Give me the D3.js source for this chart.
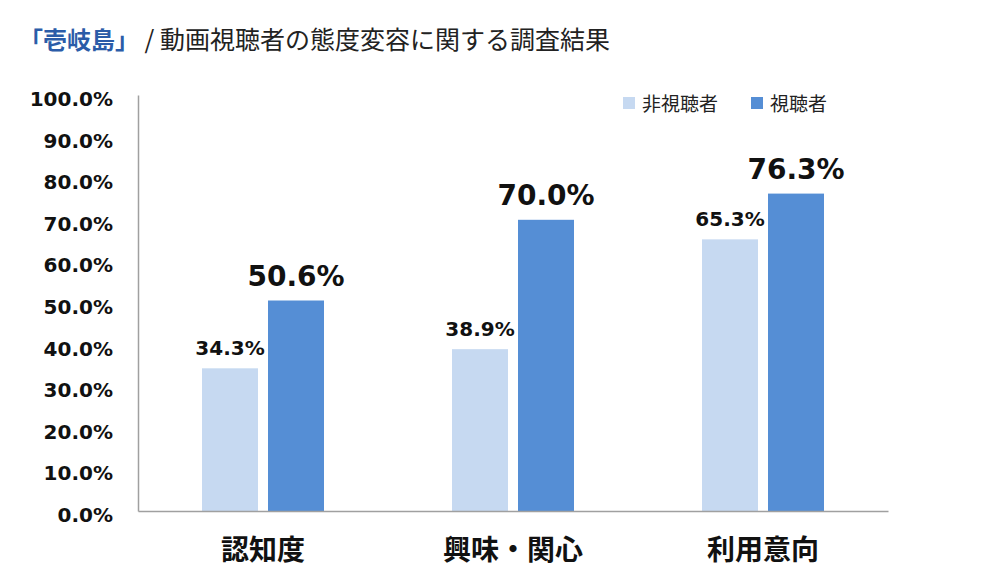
<!DOCTYPE html>
<html><head><meta charset="utf-8">
<script src="https://cdn.jsdelivr.net/npm/d3@7"></script>
<style>
html,body{margin:0;padding:0;background:#fff;}
svg{display:block;}
</style></head>
<body>
<svg id="chart" width="982" height="572"></svg>
<script>
const categories = ["認知度", "興味・関心", "利用意向"];
const seriesNames = ["非視聴者", "視聴者"];
const nonViewers = [34.3, 38.9, 65.3];
const viewers = [50.6, 70.0, 76.3];
const yTicks = [0, 10, 20, 30, 40, 50, 60, 70, 80, 90, 100];
const colors = ["#c6d9f1", "#558ed5"];
const titleBlue = "「壱岐島」";
const titleRest = " / 動画視聴者の態度変容に関する調査結果";

const svg = d3.select("#chart");
const numFont = "'DejaVu Sans', Verdana, sans-serif";
const jpFont = "'Noto Sans CJK JP', 'Noto Sans', sans-serif";

const plotLeft = 138, plotRight = 888, plotTop = 95, plotBottom = 511;
const x0 = d3.scaleBand().domain(categories).range([plotLeft, plotRight]).paddingInner(0.512).paddingOuter(0.256);
const x1 = d3.scaleBand().domain(seriesNames).range([0, x0.bandwidth()]).paddingInner(0.1515);
const y = d3.scaleLinear().domain([0, 100]).range([plotBottom, plotTop]);

// Title
const title = svg.append("text").attr("x", 19).attr("y", 49)
  .attr("font-family", jpFont).attr("font-size", 25);
title.append("tspan").text(titleBlue).attr("fill", "#2b5ca8").attr("font-weight", "bold").attr("font-size", 24);
title.append("tspan").text(titleRest).attr("fill", "#222");

// Bars
const data = categories.map((c, i) => ({cat: c, vals: [nonViewers[i], viewers[i]]}));
const g = svg.append("g");
const groups = g.selectAll("g.grp").data(data).join("g")
  .attr("transform", d => `translate(${x0(d.cat)},0)`);
groups.selectAll("rect").data(d => d.vals.map((v, j) => ({s: seriesNames[j], v, j})))
  .join("rect")
  .attr("x", d => x1(d.s)).attr("width", x1.bandwidth())
  .attr("y", d => y(d.v)).attr("height", d => y(0) - y(d.v))
  .attr("fill", d => colors[d.j]);
groups.selectAll("text.val").data(d => d.vals.map((v, j) => ({s: seriesNames[j], v, j})))
  .join("text").attr("class", "val")
  .attr("x", d => x1(d.s) + x1.bandwidth() / 2)
  .attr("y", d => y(d.v) - (d.j === 0 ? 13 : 15))
  .attr("text-anchor", "middle")
  .attr("font-family", numFont).attr("font-weight", "bold")
  .attr("font-size", d => d.j === 0 ? 20 : 28)
  .attr("fill", "#111")
  .text(d => d.v.toFixed(1) + "%");

// Axes
const yAxis = d3.axisLeft(y).tickValues(yTicks).tickSize(0).tickPadding(25)
  .tickFormat(d => d.toFixed(1) + "%");
const ya = svg.append("g").attr("transform", `translate(${plotLeft},0)`).call(yAxis);
ya.select(".domain").attr("stroke", "#a0a0a0").attr("stroke-width", 1.5);
ya.selectAll("text").attr("font-family", numFont).attr("font-weight", "bold")
  .attr("font-size", 20).attr("fill", "#111").attr("dy", "10.5");

const xAxis = d3.axisBottom(x0).tickSize(0).tickPadding(40);
const xa = svg.append("g").attr("transform", `translate(0,${plotBottom})`).call(xAxis);
xa.select(".domain").attr("stroke", "#a0a0a0").attr("stroke-width", 1.5);
xa.selectAll("text").attr("font-family", jpFont).attr("font-weight", "bold")
  .attr("font-size", 28).attr("fill", "#111").attr("dy", "0").attr("y", 49);

// Legend
const legendX = [623, 751];
const lg = svg.append("g");
seriesNames.forEach((s, i) => {
  lg.append("rect").attr("x", legendX[i]).attr("y", 97).attr("width", 12).attr("height", 12).attr("fill", colors[i]);
  lg.append("text").attr("x", legendX[i] + 19).attr("y", 111)
    .attr("font-family", jpFont).attr("font-size", 19).attr("fill", "#222").text(s);
});
</script>
</body></html>
